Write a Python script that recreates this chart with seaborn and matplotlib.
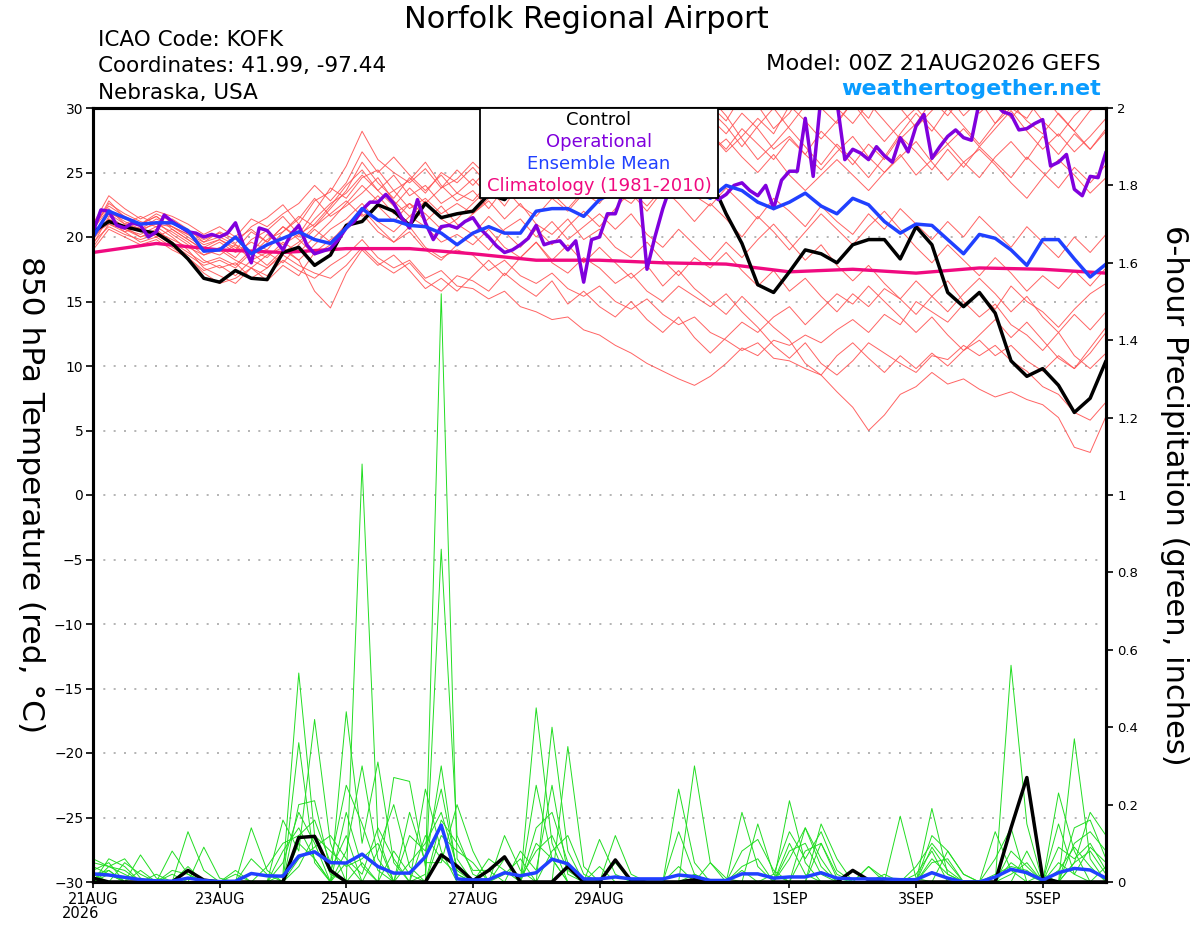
import numpy as np
import pandas as pd
import matplotlib
matplotlib.use("Agg")
import matplotlib.pyplot as plt
from matplotlib.patches import Rectangle
import seaborn as sns

# 6-hourly GEFS control / ensemble mean (65 steps, 21AUG 00Z .. 6SEP 00Z)
ctrl_temp = [
    20.4, 21.2, 20.8, 20.5, 20.3, 19.5, 18.3, 16.8,
    16.5, 17.4, 16.8, 16.7, 18.8, 19.2, 17.8, 18.6,
    20.9, 21.2, 22.5, 22.0, 20.9, 22.6, 21.5, 21.8,
    22.0, 23.3, 22.9, 24.2, 24.8, 25.4, 24.6, 25.8,
    26.2, 25.4, 24.6, 25.6, 26.4, 25.2, 24.8, 24.5,
    21.8, 19.5, 16.3, 15.7, 17.3, 19.0, 18.7, 18.0,
    19.4, 19.8, 19.8, 18.3, 20.8, 19.4, 15.7, 14.6,
    15.7, 14.1, 10.4, 9.2, 9.8, 8.5, 6.4, 7.5,
    10.4,
]
mean_temp = [
    20.0, 22.0, 21.5, 21.0, 21.1, 21.1, 20.5, 18.9,
    19.0, 20.0, 18.7, 19.4, 19.9, 20.4, 19.8, 19.5,
    20.7, 22.2, 21.3, 21.3, 20.9, 20.8, 20.3, 19.4,
    20.3, 20.8, 20.3, 20.3, 22.0, 22.2, 22.2, 21.6,
    22.9, 23.5, 24.2, 24.6, 24.4, 24.0, 23.6, 23.0,
    24.0, 23.6, 22.7, 22.2, 22.7, 23.4, 22.4, 21.8,
    23.0, 22.5, 21.2, 20.3, 21.0, 20.9, 19.8, 18.7,
    20.2, 19.9, 19.0, 17.8, 19.8, 19.8, 18.3, 16.9,
    17.9,
]
# operational run, 3-hourly (129 steps)
oper_temp = [
    20.4, 22.1, 22.0, 20.9, 20.7, 21.1, 20.9, 20.0,
    20.4, 21.7, 21.2, 20.8, 20.4, 20.3, 20.0, 20.2,
    20.0, 20.3, 21.1, 19.4, 18.0, 20.7, 20.5, 19.8,
    19.0, 20.2, 20.9, 19.4, 18.7, 18.9, 19.1, 19.8,
    20.7, 21.2, 22.1, 22.7, 22.7, 23.3, 22.6, 21.5,
    20.7, 22.9, 21.1, 19.8, 20.8, 20.9, 20.7, 21.2,
    21.5, 20.6, 20.0, 19.3, 18.8, 19.0, 19.4, 19.9,
    20.9, 19.4, 19.6, 19.7, 19.0, 19.7, 16.5, 19.8,
    20.0, 21.8, 21.8, 23.5, 24.5, 24.0, 17.5, 20.0,
    22.2, 24.0, 24.5, 25.0, 24.5, 24.0, 23.5, 22.9,
    23.3, 24.0, 24.2, 23.6, 23.2, 24.0, 22.2, 24.4,
    25.1, 25.1, 29.2, 24.7, 31.0, 31.5, 30.5, 26.0,
    26.8, 26.5, 26.0, 27.0, 26.3, 25.8, 27.7, 26.6,
    28.6, 29.5, 26.1, 27.0, 27.8, 28.3, 27.7, 27.5,
    30.5, 31.0, 30.3, 29.7, 29.5, 28.3, 28.4, 28.8,
    29.1, 25.5, 25.8, 26.4, 23.7, 23.2, 24.7, 24.6,
    26.6,
]
# daily climatology 1981-2010
clim_temp = [18.8, 19.5, 19.0, 18.8, 19.1, 19.1, 18.7, 18.2, 18.2,
             18.0, 17.9, 17.3, 17.5, 17.2, 17.6, 17.5, 17.2]

ctrl_precip = [
    0.010, 0, 0, 0, 0, 0, 0.030, 0.005,
    0, 0, 0, 0, 0, 0.115, 0.118, 0.030,
    0, 0, 0, 0, 0, 0, 0.070, 0.041,
    0.003, 0.030, 0.065, 0, 0, 0, 0.040, 0,
    0, 0.057, 0.003, 0, 0, 0, 0.006, 0,
    0, 0, 0, 0, 0, 0, 0, 0,
    0.030, 0.005, 0, 0, 0, 0, 0, 0,
    0, 0, 0.140, 0.270, 0.010, 0, 0, 0,
    0,
]
mean_precip = [
    0.021, 0.018, 0.012, 0.006, 0.003, 0.002, 0.010, 0.004,
    0.001, 0.002, 0.022, 0.016, 0.015, 0.067, 0.078, 0.050,
    0.049, 0.072, 0.040, 0.023, 0.023, 0.065, 0.147, 0.008,
    0.005, 0.006, 0.024, 0.016, 0.024, 0.059, 0.047, 0.008,
    0.008, 0.013, 0.008, 0.008, 0.008, 0.018, 0.014, 0.004,
    0.004, 0.021, 0.021, 0.010, 0.013, 0.013, 0.024, 0.010,
    0.008, 0.008, 0.008, 0.006, 0.006, 0.024, 0.010, 0.000,
    0.000, 0.013, 0.033, 0.024, 0.005, 0.024, 0.035, 0.031,
    0.010,
]

# ensemble members, 850 hPa temperature
ens_t01 = [
    20.5, 22.8, 21.5, 21.0, 21.8, 21.2, 20.5, 19.8,
    20.3, 19.5, 20.8, 21.5, 22.5, 21.0, 22.8, 23.5,
    25.5, 28.2, 26.0, 25.0, 24.2, 25.3, 23.8, 24.5,
    25.8, 24.6, 26.5, 27.8, 26.2, 28.5, 27.0, 29.2,
    28.0, 30.5, 29.0, 31.2, 29.5, 30.8, 28.6, 30.2,
    29.0, 31.0, 30.2, 28.4, 29.6, 31.5, 30.0, 28.8,
    30.5, 29.2, 31.4, 30.0, 28.5, 29.8, 31.0, 29.4,
    30.6, 28.8, 30.0, 29.2, 31.0, 29.5, 28.2, 29.8,
    30.4,
]
ens_t02 = [
    19.8, 22.0, 21.2, 20.6, 21.0, 20.4, 19.6, 18.6,
    19.2, 18.4, 19.8, 20.5, 21.6, 20.2, 21.0, 22.4,
    24.0, 25.2, 23.6, 24.8, 23.2, 24.0, 22.6, 23.4,
    24.5, 23.2, 25.6, 24.4, 26.0, 25.0, 27.2, 26.0,
    27.6, 26.4, 28.2, 27.0, 25.8, 27.4, 26.2, 28.0,
    26.8, 28.4, 27.2, 26.0, 27.6, 26.4, 28.2, 27.0,
    25.6, 27.2, 26.0, 27.8, 26.6, 25.2, 26.8, 25.4,
    27.0, 25.8, 24.6, 26.2, 25.0, 23.8, 25.4, 24.2,
    25.6,
]
ens_t03 = [
    20.0, 21.4, 20.6, 20.2, 20.8, 20.0, 19.0, 17.6,
    17.0, 16.4, 17.6, 17.0, 18.2, 17.4, 16.8, 17.8,
    18.6, 19.8, 18.4, 17.6, 18.2, 16.8, 17.4, 16.2,
    16.0, 15.2, 15.8, 14.6, 14.2, 13.6, 13.8, 12.8,
    12.4, 11.6, 11.0, 10.2, 9.6, 9.0, 8.5, 9.2,
    10.2, 11.4, 10.8, 12.0, 11.6, 12.4, 11.8, 12.8,
    13.6, 12.6, 14.0, 13.2, 15.0, 14.2, 13.4, 14.8,
    15.6, 14.4, 16.2, 15.0, 14.2, 13.0, 14.4, 15.6,
    16.4,
]
ens_t04 = [
    20.8, 22.4, 21.6, 21.0, 21.6, 20.8, 20.2, 19.4,
    19.8, 19.0, 20.4, 19.6, 20.8, 19.8, 18.6, 19.4,
    20.6, 21.8, 20.4, 19.6, 20.8, 19.2, 18.4, 19.0,
    18.6, 17.4, 18.2, 17.0, 16.4, 17.2, 16.0, 15.4,
    16.2, 15.0, 14.4, 15.2, 14.0, 13.2, 13.8, 12.6,
    12.0, 11.2, 11.8, 10.6, 10.4, 9.8, 9.3, 8.0,
    6.8, 5.0, 6.2, 7.8, 8.4, 9.5, 8.6, 9.0,
    8.2, 7.6, 8.0, 7.4, 7.0, 6.0, 3.7, 3.3,
    6.1,
]
ens_t05 = [
    19.4, 21.6, 20.8, 20.0, 20.6, 19.6, 18.8, 18.0,
    18.4, 17.8, 19.0, 18.4, 19.6, 18.8, 20.0, 21.2,
    22.6, 24.0, 22.8, 23.6, 22.2, 23.0, 21.8, 22.6,
    21.8, 22.8, 21.4, 22.6, 21.0, 20.2, 21.4, 19.8,
    20.6, 19.2, 18.4, 19.6, 18.2, 17.0, 18.4, 17.6,
    18.8, 17.4, 16.2, 17.4, 15.8, 16.8, 15.4, 14.2,
    15.6, 14.6, 16.0, 15.2, 14.0, 15.4, 16.6, 15.0,
    13.8, 14.8, 13.2, 12.4, 11.2, 12.6, 10.8, 9.8,
    11.0,
]
ens_t06 = [
    20.2, 21.8, 21.0, 20.6, 21.4, 20.8, 20.0, 19.2,
    19.8, 19.2, 18.6, 19.8, 20.4, 21.6, 20.8, 21.8,
    22.8, 21.6, 22.4, 21.2, 22.6, 21.8, 20.6, 21.4,
    22.6, 23.8, 22.4, 24.2, 25.4, 24.0, 25.8, 24.6,
    26.2, 25.0, 26.8, 28.2, 27.0, 28.8, 30.4, 29.2,
    28.0, 29.6, 28.4, 26.8, 27.8, 26.4, 25.2, 26.6,
    27.8, 26.2, 25.0, 26.4, 24.8, 26.0, 27.2, 25.8,
    24.6, 26.2, 27.4, 26.0, 27.8, 26.4, 28.0, 26.8,
    28.4,
]
ens_t07 = [
    19.6, 20.8, 20.2, 19.8, 20.2, 19.4, 18.6, 17.8,
    18.2, 17.6, 18.8, 17.8, 19.0, 18.2, 19.4, 20.6,
    21.4, 22.6, 21.2, 20.4, 21.6, 20.8, 19.6, 20.2,
    19.4, 20.6, 19.2, 18.4, 19.6, 18.0, 17.2, 18.4,
    17.6, 16.4, 17.2, 15.8, 15.0, 16.2, 15.4, 14.6,
    15.6, 14.2, 13.0, 11.6, 10.6, 11.8, 10.2, 9.3,
    10.4, 11.8, 11.0, 10.2, 9.5, 10.8, 10.5, 11.6,
    10.8, 11.6, 10.4, 9.6, 8.4, 7.8, 6.4, 5.8,
    7.2,
]
ens_t08 = [
    20.6, 22.6, 21.8, 21.2, 20.8, 21.4, 20.6, 19.6,
    20.0, 19.4, 18.8, 20.2, 19.4, 20.2, 22.0, 23.8,
    23.0, 24.6, 25.2, 23.6, 24.4, 25.8, 24.0, 22.8,
    23.6, 22.2, 23.8, 22.4, 21.6, 23.0, 22.0, 23.4,
    22.6, 24.2, 23.4, 22.0, 23.6, 24.8, 23.2, 22.4,
    23.8, 22.6, 21.4, 23.0, 22.0, 20.8, 22.4, 21.2,
    20.2, 21.8, 20.6, 22.2, 21.0, 19.8, 21.2, 20.0,
    21.6, 20.4, 19.2, 20.8, 19.6, 18.4, 20.0, 18.8,
    20.2,
]
ens_t09 = [
    19.2, 21.0, 20.4, 19.6, 20.0, 19.2, 18.4, 17.4,
    17.8, 17.0, 18.2, 17.6, 18.8, 19.6, 20.8, 22.2,
    23.6, 25.8, 24.2, 23.0, 24.6, 23.4, 25.0, 24.2,
    25.4, 24.0, 25.8, 27.0, 25.6, 27.2, 28.8, 27.4,
    29.0, 28.2, 29.8, 31.0, 30.0, 31.6, 29.6, 30.8,
    29.4, 27.6, 26.0, 27.2, 28.6, 30.2, 31.4, 30.0,
    28.8, 30.4, 29.0, 27.6, 28.8, 30.6, 29.4, 31.0,
    29.6, 30.8, 29.2, 30.6, 29.0, 27.8, 29.4, 30.6,
    29.8,
]
ens_t10 = [
    20.4, 21.2, 20.8, 20.4, 21.2, 20.2, 19.4, 18.2,
    17.6, 18.0, 16.8, 17.6, 18.6, 17.8, 17.2, 16.8,
    17.8, 19.2, 18.0, 17.2, 18.0, 16.6, 15.8, 17.0,
    16.6, 15.8, 17.2, 16.2, 15.4, 16.6, 14.8, 15.8,
    14.6, 13.8, 15.0, 13.6, 12.6, 13.8, 12.2, 11.0,
    12.2, 13.4, 12.6, 13.8, 14.6, 13.2, 14.4, 15.6,
    14.8, 16.2, 15.0, 13.8, 12.6, 13.8, 12.4, 11.2,
    12.0, 10.8, 11.6, 10.4, 9.6, 10.8, 9.8, 11.0,
    12.6,
]
ens_t11 = [
    20.0, 21.8, 21.4, 21.0, 21.6, 20.6, 19.8, 19.0,
    19.6, 18.8, 19.6, 19.0, 20.4, 21.4, 23.0, 21.6,
    22.4, 23.4, 24.6, 22.8, 21.6, 22.8, 21.4, 20.6,
    21.8, 23.0, 24.4, 23.2, 24.8, 23.4, 22.2, 23.6,
    24.8, 23.4, 22.6, 24.0, 25.4, 26.6, 25.2, 26.6,
    27.6, 26.2, 25.0, 26.4, 24.8, 23.6, 24.8, 26.0,
    24.8, 23.6, 25.0, 26.2, 27.4, 25.8, 24.4, 25.8,
    26.8, 25.6, 24.2, 23.0, 24.6, 26.0, 24.8, 23.4,
    24.6,
]
ens_t12 = [
    19.0, 20.6, 20.0, 19.4, 19.8, 19.0, 18.4, 17.2,
    16.4, 16.8, 17.6, 16.6, 17.8, 17.0, 18.8, 19.8,
    20.6, 22.2, 20.8, 19.6, 20.4, 19.0, 18.2, 19.4,
    20.2, 19.0, 20.6, 21.4, 20.0, 21.2, 19.8, 20.8,
    21.8, 20.6, 21.8, 20.2, 19.2, 20.6, 19.4, 18.2,
    19.6, 18.4, 19.8, 21.0, 19.6, 18.2, 19.4, 17.8,
    16.6, 17.8, 16.4, 15.2, 16.6, 15.4, 14.2, 15.6,
    16.8, 15.6, 14.2, 15.4, 13.8, 12.6, 14.0, 12.8,
    14.2,
]
ens_t13 = [
    21.0, 23.2, 22.2, 21.4, 22.0, 21.6, 21.0, 20.2,
    20.8, 20.0, 21.4, 20.8, 21.8, 22.6, 24.0, 22.8,
    24.2, 26.6, 25.0, 26.2, 24.8, 23.6, 24.8, 23.4,
    22.8, 24.2, 23.0, 24.8, 26.4, 25.0, 26.6, 28.0,
    26.8, 28.4, 27.0, 25.6, 26.8, 28.0, 29.6, 28.0,
    26.6, 27.8, 29.2, 28.0, 30.2, 29.0, 27.6, 29.0,
    30.4, 28.8, 27.4, 28.8, 30.0, 28.6, 27.2, 28.4,
    27.0, 28.4, 29.8, 28.2, 26.8, 28.0, 26.6, 27.8,
    29.2,
]
ens_t14 = [
    20.2, 21.0, 20.6, 20.0, 20.4, 19.8, 19.2, 18.6,
    19.0, 18.2, 17.6, 18.6, 19.2, 18.2, 15.8, 14.5,
    17.2, 19.0, 17.8, 18.6, 17.4, 16.0, 16.8, 15.8,
    17.0, 18.2, 17.0, 18.4, 19.6, 18.2, 19.4, 18.0,
    19.2, 18.0, 16.8, 17.8, 16.2, 17.4, 16.0, 15.0,
    14.0, 15.4, 14.2, 13.0, 12.0, 10.2, 9.3, 10.8,
    11.8, 10.6, 9.5, 10.8, 9.8, 11.0, 10.0, 11.2,
    12.4, 13.6, 12.2, 13.4, 12.0, 10.6, 9.8, 11.4,
    13.0,
]
ens_t15 = [
    19.8, 21.4, 20.4, 20.8, 20.0, 20.6, 19.8, 19.0,
    18.6, 19.4, 18.2, 18.8, 18.0, 19.4, 20.6, 19.6,
    21.0, 22.0, 23.2, 21.8, 22.6, 21.2, 22.4, 21.0,
    20.2, 21.6, 20.4, 19.2, 20.6, 19.4, 20.8, 22.0,
    20.8, 22.2, 23.6, 22.4, 23.8, 22.6, 21.2, 22.6,
    21.4, 20.0, 21.6, 20.4, 19.0, 20.4, 21.8, 20.6,
    19.4, 20.8, 22.0, 20.6, 19.2, 18.0, 19.4, 18.2,
    17.0, 18.4, 17.2, 15.8, 17.0, 16.0, 17.4, 16.2,
    17.6,
]
ens_t16 = [
    20.6, 22.2, 21.0, 21.6, 21.0, 20.8, 20.2, 19.6,
    20.4, 19.8, 20.6, 19.6, 20.8, 20.0, 21.4, 22.6,
    23.4, 24.8, 23.6, 22.4, 23.8, 22.6, 23.8, 25.2,
    24.0, 25.4, 24.2, 25.8, 27.2, 25.8, 24.6, 26.0,
    27.6, 26.2, 25.0, 26.4, 28.2, 26.8, 28.4, 29.8,
    28.6, 27.0, 28.6, 30.0, 28.4, 27.0, 25.6, 27.2,
    26.0, 24.6, 26.2, 28.0, 29.6, 28.2, 30.0, 28.6,
    27.2, 28.8, 30.4, 29.0, 28.0, 29.6, 28.2, 26.8,
    28.2,
]

# ensemble members, 6-hour precipitation (inches)
ens_p01 = [
    0, .06, .04, 0, 0, .02, 0, 0,
    0, 0, 0, 0, .02, .54, .12, .02,
    0, .05, 0, 0, 0, .02, 1.52, .06,
    0, 0, 0, 0, .45, .10, 0, 0,
    0, 0, 0, 0, 0, 0, 0, 0,
    0, .03, 0, 0, .21, .05, 0, 0,
    0, 0, 0, 0, 0, .19, .02, 0,
    0, 0, .56, .15, 0, 0, .05, .18,
    .12,
]
ens_p02 = [
    .03, .05, 0, .07, .01, 0, 0, 0,
    0, 0, 0, 0, 0, .36, .05, 0,
    .44, .10, .31, .05, 0, 0, .86, .12,
    .02, 0, 0, 0, 0, .40, .08, 0,
    0, 0, 0, 0, 0, .24, .05, 0,
    0, 0, .15, .02, 0, 0, 0, 0,
    0, 0, 0, .17, .01, 0, 0, 0,
    0, .13, .03, 0, 0, .23, .08, 0,
    0,
]
ens_p03 = [
    .05, .04, .02, 0, 0, 0, .13, .03,
    0, 0, 0, 0, .16, .08, .42, .10,
    0, 1.08, .12, 0, 0, .24, .08, 0,
    0, 0, 0, 0, 0, 0, .35, .04,
    0, 0, 0, 0, 0, 0, .30, .05,
    0, 0, 0, 0, 0, .14, .06, 0,
    0, 0, 0, 0, 0, .12, .08, .02,
    0, 0, 0, .08, 0, 0, .37, .06,
    0,
]
ens_p04 = [
    0, .03, 0, 0, 0, .08, .02, 0,
    0, 0, .14, .03, 0, .20, .21, .03,
    .12, 0, 0, .27, .26, .04, .30, .02,
    0, 0, .12, .03, 0, 0, 0, 0,
    .11, .02, 0, 0, 0, 0, 0, 0,
    0, .18, .04, 0, 0, 0, .15, .06,
    0, 0, .02, 0, 0, 0, 0, 0,
    0, .06, .14, 0, 0, .15, .02, 0,
    .04,
]
ens_p05 = [
    .02, 0, .05, .02, 0, 0, 0, 0,
    0, 0, 0, .04, .10, .12, .16, .05,
    .25, .15, .03, 0, .18, .05, .05, .20,
    .08, 0, 0, 0, .25, .06, 0, 0,
    0, .12, .02, 0, 0, 0, 0, 0,
    0, 0, 0, 0, .10, .02, 0, 0,
    0, .04, 0, 0, 0, 0, .08, .02,
    0, 0, 0, 0, .02, 0, .14, .16,
    .06,
]
ens_p06 = [
    .04, .02, 0, 0, 0, 0, 0, .09,
    .01, 0, 0, 0, .05, .18, .10, 0,
    .08, .30, .06, 0, .05, .10, .18, .04,
    0, .06, .03, 0, .14, .18, .05, 0,
    0, 0, 0, 0, 0, .13, .02, 0,
    0, 0, 0, .02, .13, .06, .13, .03,
    0, 0, 0, 0, 0, .09, .03, 0,
    0, 0, 0, 0, 0, .09, .06, .10,
    .03,
]
ens_p07 = [
    0, .02, 0, .03, 0, 0, 0, 0,
    0, .02, 0, 0, 0, .10, .06, 0,
    .05, 0, .08, .20, .04, 0, .12, .08,
    .05, 0, 0, .08, .03, .25, .02, 0,
    0, 0, 0, 0, 0, 0, .02, 0,
    0, .08, .11, .03, 0, 0, .10, .01,
    0, 0, 0, 0, .04, .10, .05, 0,
    0, 0, .02, .05, 0, 0, .10, .13,
    .08,
]
ens_p08 = [
    .06, .04, .03, 0, .02, 0, .04, 0,
    0, 0, .06, .02, 0, .04, .12, .08,
    .04, .06, .10, 0, .12, .08, .24, .03,
    0, 0, .06, .01, .08, .12, .03, 0,
    .04, 0, 0, 0, 0, 0, 0, .05,
    .01, 0, 0, 0, .06, .14, .04, 0,
    0, .04, .01, 0, 0, .06, .02, 0,
    0, .02, .04, .03, 0, .05, .02, .09,
    .05,
]
ens_p09 = [
    0, .04, .06, .01, 0, 0, 0, 0,
    0, .03, 0, 0, .08, .14, .06, 0,
    .18, .04, 0, .08, .02, 0, .16, .10,
    .03, .03, 0, 0, .10, .06, 0, 0,
    0, .05, 0, 0, 0, .04, 0, 0,
    0, 0, 0, 0, .08, .10, .02, 0,
    0, 0, 0, 0, 0, .05, .06, 0,
    0, 0, .05, .02, 0, .03, .09, .04,
    0,
]
ens_p10 = [
    .02, .03, 0, 0, 0, .03, .02, 0,
    0, 0, 0, 0, 0, .06, .09, .12,
    .06, .02, .14, .06, 0, .12, .06, .02,
    0, 0, .02, .06, 0, .08, .12, .02,
    0, 0, 0, 0, 0, 0, 0, 0,
    0, .04, .06, 0, 0, .08, .10, .02,
    0, 0, 0, 0, .02, .08, 0, 0,
    0, 0, .08, .04, 0, 0, .05, .08,
    .02,
]

tick_days = [0, 2, 4, 6, 8, 11, 13, 15]
tick_labels = ["21AUG", "23AUG", "25AUG", "27AUG", "29AUG", "1SEP", "3SEP", "5SEP"]
legend_labels = ["Control", "Operational", "Ensemble Mean", "Climatology (1981-2010)"]

C_RED = "#ff5252"
C_GREEN = "#22dd22"
C_OPER = "#8000dd"
C_MEAN = "#2040ff"
C_CLIM = "#f00a80"

sns.set_style("white")
plt.rcParams["font.family"] = ["DejaVu Sans"]
plt.rcParams.update({
    "text.color": "black",
    "axes.labelcolor": "black",
    "xtick.color": "black",
    "ytick.color": "black",
})

days6 = np.arange(65) / 4.0
days3 = np.arange(129) / 8.0
days_clim = np.arange(17)

temp_members = [ens_t01, ens_t02, ens_t03, ens_t04, ens_t05, ens_t06, ens_t07, ens_t08,
                ens_t09, ens_t10, ens_t11, ens_t12, ens_t13, ens_t14, ens_t15, ens_t16]
precip_members = [ens_p01, ens_p02, ens_p03, ens_p04, ens_p05,
                  ens_p06, ens_p07, ens_p08, ens_p09, ens_p10]

red_df = pd.DataFrame({
    "day": np.tile(days6, len(temp_members)),
    "temp": np.concatenate(temp_members),
    "member": np.repeat(np.arange(len(temp_members)), len(days6)),
})
green_df = pd.DataFrame({
    "day": np.tile(days6, len(precip_members)),
    "precip": np.concatenate(precip_members),
    "member": np.repeat(np.arange(len(precip_members)), len(days6)),
})

fig = plt.figure(figsize=(12, 9.27), dpi=100)
ax = fig.add_axes([93 / 1200, 45 / 927, 1013 / 1200, 774 / 927])
ax2 = ax.twinx()

# temperature (left axis)
sns.lineplot(data=red_df, x="day", y="temp", units="member", estimator=None,
             color=C_RED, lw=0.7, alpha=0.9, legend=False, ax=ax)
sns.lineplot(x=days_clim, y=clim_temp, color=C_CLIM, lw=2.4, ax=ax)
sns.lineplot(x=days6, y=ctrl_temp, color="black", lw=2.5, ax=ax)
sns.lineplot(x=days3, y=oper_temp, color=C_OPER, lw=2.5, ax=ax)
sns.lineplot(x=days6, y=mean_temp, color=C_MEAN, lw=2.5, ax=ax)

# precipitation (right axis)
sns.lineplot(data=green_df, x="day", y="precip", units="member", estimator=None,
             color=C_GREEN, lw=0.7, legend=False, ax=ax2)
sns.lineplot(x=days6, y=ctrl_precip, color="black", lw=2.5, ax=ax2)
sns.lineplot(x=days6, y=mean_precip, color=C_MEAN, lw=2.5, ax=ax2)

# legend box, text centred as in the original
box_x0 = (480 - 93) / 1013
box_x1 = (718 - 93) / 1013
box_y0 = (882 - 198) / 774
ax2.add_patch(Rectangle((box_x0, box_y0), box_x1 - box_x0, 1 - box_y0,
                        transform=ax2.transAxes, facecolor="white", edgecolor="black",
                        lw=1.3, zorder=10, clip_on=False))
for label, color, ypx in zip(legend_labels, ["black", C_OPER, C_MEAN, C_CLIM], [120, 142, 164, 186]):
    ax2.text((box_x0 + box_x1) / 2, (882 - ypx) / 774, label, color=color, fontsize=13,
             ha="center", va="center", transform=ax2.transAxes, zorder=11)

ax.set_xlim(0, 16)
ax.set_ylim(-30, 30)
ax2.set_ylim(0, 2)
ax.set_yticks(range(-30, 31, 5))
ax2.set_yticks(np.arange(0, 2.01, 0.2))
ax2.set_yticklabels([f"{v:g}" for v in np.round(np.arange(0, 2.01, 0.2), 1)])
ax.set_xticks(tick_days)
ax.set_xticklabels(tick_labels)
for a in (ax, ax2):
    a.set_xlabel("")
    a.set_ylabel("")
    for sp in a.spines.values():
        sp.set_visible(True)
        sp.set_color("black")
        sp.set_linewidth(2.2)
ax.grid(axis="y", linestyle=(0, (1.2, 5)), color="#a8a8a8", lw=1.2)
ax.grid(axis="x", visible=False)
ax.tick_params(axis="y", direction="out", length=5, width=1.2, labelsize=10, pad=2, left=True)
ax.tick_params(axis="x", direction="out", length=4, width=1.2, labelsize=10.5, pad=3, bottom=True)
ax2.tick_params(axis="y", direction="out", length=5, width=1.2, labelsize=9.5, pad=3, right=True)

fig.text(586 / 1200, 1 - 19 / 927, "Norfolk Regional Airport", fontsize=22, ha="center", va="center")
fig.text(98 / 1200, 1 - 40 / 927, "ICAO Code: KOFK", fontsize=15.5, ha="left", va="center")
fig.text(98 / 1200, 1 - 66 / 927, "Coordinates: 41.99, -97.44", fontsize=15.5, ha="left", va="center")
fig.text(98 / 1200, 1 - 93 / 927, "Nebraska, USA", fontsize=15.5, ha="left", va="center")
fig.text(1101 / 1200, 1 - 64 / 927, "Model: 00Z 21AUG2026 GEFS", fontsize=16.2, ha="right", va="center")
fig.text(1101 / 1200, 1 - 89 / 927, "weathertogether.net", fontsize=16, fontweight="bold",
         color="#0a9cff", ha="right", va="center")
fig.text(62 / 1200, 1 - 913 / 927, "2026", fontsize=10.5, ha="left", va="center")
fig.text(30 / 1200, 1 - 495 / 927, "850 hPa Temperature (red, °C)", fontsize=22.5,
         rotation=-90, ha="center", va="center")
fig.text(1175 / 1200, 1 - 495 / 927, "6-hour Precipitation (green, inches)", fontsize=22,
         rotation=-90, ha="center", va="center")

fig.savefig("out.png", dpi=100)
